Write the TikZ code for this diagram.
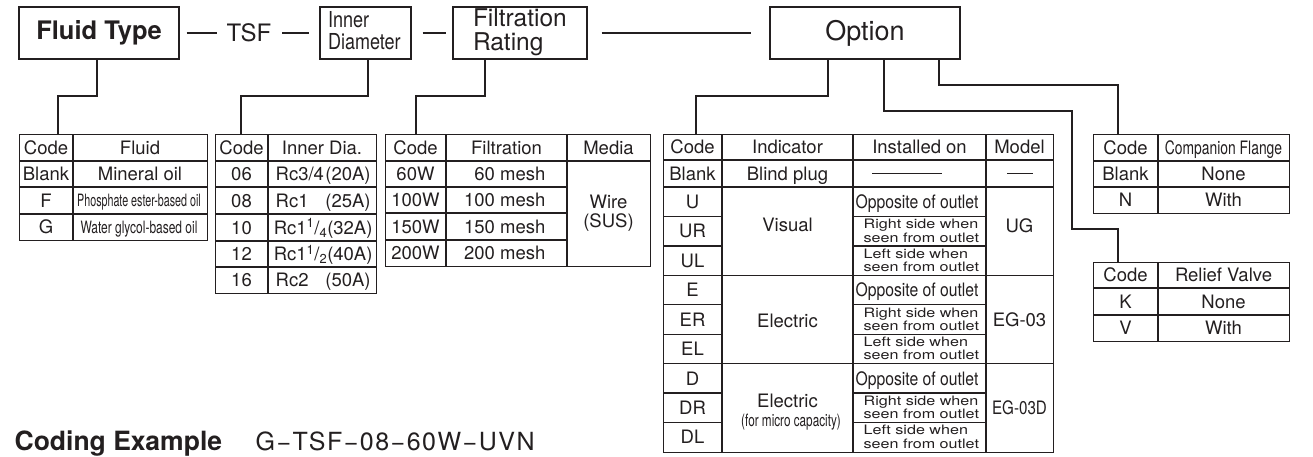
\documentclass[tikz,border=0pt]{standalone}
\usepackage{fontspec}
\usepackage{graphicx}
\setmainfont{TeX Gyre Heros}
\newfontfamily\codefont[LetterSpace=6]{TeX Gyre Heros}
\definecolor{ink}{HTML}{231F20}
\newcommand\fsz[1]{\fontsize{#1pt}{#1pt}\selectfont}
\newcommand\hs[2]{\scalebox{#1}[1]{#2}}
\newcounter{cellno}
\newcommand\cell[3]{\stepcounter{cellno}\node[cellstyle] (cell\thecellno) at (#1,#2) {#3};}
\newcommand\freecell[4]{\stepcounter{cellno}\node[freestyle,#1] (cell\thecellno) at (#2,#3) {#4};}
\newcommand\twoline[2]{\hs{1.24}{\fontsize{13pt}{13pt}\selectfont\begin{tabular}{@{}l@{}}#1\\#2\end{tabular}}}
\begin{document}
\begin{tikzpicture}[x=1pt,y=-1pt,line width=1.3pt,color=ink,
  hbox/.style={draw,minimum height=52,inner sep=0},
  tab/.style={draw,anchor=north west,inner sep=0},
  cellstyle/.style={inner sep=0,font=\fsz{18.5},text height=13.3pt,text depth=0pt},
  freestyle/.style={inner sep=0,font=\fsz{18.5}},
  smallcell/.style={inner sep=0,font=\fsz{17},text height=12.2pt,text depth=0pt},
  thinline/.style={line width=0.9pt}]
\useasboundingbox (0,0) rectangle (1313,456);

% header
\node[hbox,minimum width=160,font=\fsz{25.5}\bfseries] (ft) at (99,33) {Fluid Type};
\node[inner sep=0,font=\fsz{24}] (tsf) at (249,33) {TSF};
\node[hbox,minimum width=91] (idia) at (365.5,33) {\makebox[75pt][l]{\hs{0.82}{\fontsize{22pt}{19.5pt}\selectfont\begin{tabular}{@{}l@{}}Inner\\Diameter\end{tabular}}}};
\node[hbox,minimum width=134] (frt) at (520,33) {\makebox[94pt][l]{\fontsize{24.5pt}{22pt}\selectfont\begin{tabular}{@{}l@{}}Filtration\\Rating\end{tabular}}};
\node[hbox,minimum width=190,font=\fsz{27}] (opt) at (865,33) {Option};

\draw ([xshift=7pt]ft.east) -- ([xshift=-9pt]tsf.west);
\draw ([xshift=10pt]tsf.east) -- ([xshift=-10pt]idia.west);
\draw ([xshift=11pt]idia.east) -- ([xshift=-6pt]frt.west);
\draw ([xshift=14pt]frt.east) -- ([xshift=-18pt]opt.west);

% tables
\node[tab,minimum width=188,minimum height=106] (tfl) at (19,134) {};
\node[tab,minimum width=161,minimum height=159] (tid) at (215,134) {};
\node[tab,minimum width=265,minimum height=132] (tfr) at (385,134) {};
\node[tab,minimum width=390,minimum height=318] (topt) at (663,134) {};
\node[tab,minimum width=196,minimum height=79] (tcf) at (1093,134) {};
\node[tab,minimum width=196,minimum height=79] (trv) at (1093,262) {};

% connectors
\coordinate (k1) at (58,96);
\draw ([xshift=-2pt]ft.south) |- (k1) -- (k1 |- tfl.north);
\coordinate (k2) at (241,96);
\draw ([xshift=2.5pt]idia.south) |- (k2) -- (k2 |- tid.north);
\coordinate (k3) at (416,96);
\draw ([xshift=-35pt]frt.south) |- (k3) -- (k3 |- tfr.north);
\coordinate (k4) at (696,96);
\draw ([xshift=-37pt]opt.south) |- (k4) -- (k4 |- topt.north);
\coordinate (k5) at (1072,111);
\coordinate (k6) at (1118,229);
\draw ([xshift=19pt]opt.south) |- (k5) |- (k6) -- (k6 |- trv.north);
\coordinate (k7) at (1118,85);
\draw ([xshift=74pt]opt.south) |- (k7) -- (k7 |- tcf.north);

% fluid table grid
\draw (73,134) -- (73,240);
\foreach \y in {161,187,214} \draw (19,\y) -- (207,\y);
\cell{46}{147.5}{Code}
\cell{140}{147.5}{Fluid}
\cell{46}{174}{Blank}
\cell{140}{174}{Mineral oil}
\cell{46}{200.5}{F}
\node[smallcell] (phos) at (139,200.5) {\hs{0.63}{Phosphate ester-based oil}};
\cell{46}{227}{G}
\node[smallcell] (wgly) at (139,227) {\hs{0.705}{Water glycol-based oil}};

% inner dia table
\draw (268,134) -- (268,293);
\foreach \y in {161,187,214,241,267} \draw (215,\y) -- (376,\y);
\cell{241.5}{147.5}{Code}
\cell{322}{147.5}{Inner Dia.}
\cell{241.5}{174}{06}
\cell{241.5}{200.5}{08}
\cell{241.5}{227.5}{10}
\cell{241.5}{254}{12}
\cell{241.5}{280}{16}
\freecell{anchor=west,text height=13.3pt,text depth=0pt}{275}{174}{\makebox[95pt]{Rc3/4\hfill(20A)}}
\freecell{anchor=west,text height=13.3pt,text depth=0pt}{275}{200.5}{\makebox[95pt]{Rc1\hfill(25A)}}
\freecell{anchor=west,text height=13.3pt,text depth=0pt}{275}{227.5}{\makebox[95pt]{Rc1\textsuperscript{1}/\textsubscript{4}\hfill(32A)}}
\freecell{anchor=west,text height=13.3pt,text depth=0pt}{275}{254}{\makebox[95pt]{Rc1\textsuperscript{1}/\textsubscript{2}\hfill(40A)}}
\freecell{anchor=west,text height=13.3pt,text depth=0pt}{275}{280}{\makebox[95pt]{Rc2\hfill(50A)}}

% filtration table
\draw (446,134) -- (446,266);
\draw (567,134) -- (567,266);
\draw (385,161) -- (650,161);
\foreach \y in {187,213,240} \draw (385,\y) -- (567,\y);
\cell{415.5}{147.5}{Code}
\cell{506.5}{147.5}{Filtration}
\cell{608.5}{147.5}{Media}
\cell{415.5}{174}{60W}
\cell{415.5}{200}{100W}
\cell{415.5}{226.5}{150W}
\cell{415.5}{253}{200W}
\freecell{anchor=east,text height=13.3pt,text depth=0pt}{546}{174}{60 mesh}
\freecell{anchor=east,text height=13.3pt,text depth=0pt}{546}{200}{100 mesh}
\freecell{anchor=east,text height=13.3pt,text depth=0pt}{546}{226.5}{150 mesh}
\freecell{anchor=east,text height=13.3pt,text depth=0pt}{546}{253}{200 mesh}
\freecell{align=center}{608.5}{213}{\fontsize{18.5pt}{18pt}\selectfont Wire\\(SUS)}

% option table
\draw (722,134) -- (722,452);
\draw (853,134) -- (853,452);
\draw (986,134) -- (986,452);
\foreach \y in {160,187,275.3,363.7} \draw (663,\y) -- (1053,\y);
\foreach \y in {216.4,245.9,304.8,334.2,393.1,422.6} {\draw (663,\y) -- (722,\y); \draw (853,\y) -- (986,\y);}
\cell{692.5}{147}{Code}
\cell{787.5}{147}{Indicator}
\cell{919.5}{147}{Installed on}
\cell{1019.5}{147}{Model}
\cell{692.5}{173.5}{Blank}
\cell{787.5}{173.5}{Blind plug}
\coordinate (b1) at (872,173.5); \coordinate (b2) at (942,173.5);
\draw[thinline] (b1) -- (b2);
\coordinate (b3) at (1007,173.5); \coordinate (b4) at (1033,173.5);
\draw[thinline] (b3) -- (b4);
\cell{692.5}{201.7}{U}
\cell{692.5}{231.2}{UR}
\cell{692.5}{260.6}{UL}
\cell{692.5}{290.1}{E}
\cell{692.5}{319.5}{ER}
\cell{692.5}{349.0}{EL}
\cell{692.5}{378.4}{D}
\cell{692.5}{407.9}{DR}
\cell{692.5}{437.3}{DL}
\cell{787.5}{225}{Visual}
\cell{787.5}{321}{Electric}
\cell{787.5}{401}{Electric}
\node[smallcell] (micro) at (791,420) {\hs{0.69}{(for micro capacity)}};
\cell{917}{201.7}{\hs{0.85}{Opposite of outlet}}
\cell{917}{290.1}{\hs{0.85}{Opposite of outlet}}
\cell{917}{378.4}{\hs{0.85}{Opposite of outlet}}
\freecell{anchor=west}{863}{232.5}{\twoline{Right side when}{seen from outlet}}
\freecell{anchor=west}{863}{262}{\twoline{Left side when}{seen from outlet}}
\freecell{anchor=west}{863}{321}{\twoline{Right side when}{seen from outlet}}
\freecell{anchor=west}{863}{350.4}{\twoline{Left side when}{seen from outlet}}
\freecell{anchor=west}{863}{409.3}{\twoline{Right side when}{seen from outlet}}
\freecell{anchor=west}{863}{438.7}{\twoline{Left side when}{seen from outlet}}
\cell{1019.5}{226}{UG}
\cell{1019.5}{320}{EG-03}
\cell{1019.5}{408}{\hs{0.82}{EG-03D}}

% companion flange
\draw (1158,134) -- (1158,213);
\foreach \y in {161,187} \draw (1093,\y) -- (1289,\y);
\cell{1125.5}{147.5}{Code}
\cell{1223.5}{147.5}{\hs{0.75}{Companion Flange}}
\cell{1125.5}{174}{Blank}
\cell{1223.5}{174}{None}
\cell{1125.5}{200}{N}
\cell{1223.5}{200}{With}

% relief valve
\draw (1158,262) -- (1158,341);
\foreach \y in {288,315} \draw (1093,\y) -- (1289,\y);
\cell{1125.5}{275}{Code}
\cell{1223.5}{275}{Relief Valve}
\cell{1125.5}{301.5}{K}
\cell{1223.5}{301.5}{None}
\cell{1125.5}{328}{V}
\cell{1223.5}{328}{With}

% coding example
\node[anchor=base west,inner sep=0,font=\fsz{26.5}\bfseries] (ce) at (14,450) {Coding Example};
\node[anchor=base west,inner sep=0,font=\codefont\fsz{25}] (cx) at (255,450) {G−TSF−08−60W−UVN};
\end{tikzpicture}
\end{document}
